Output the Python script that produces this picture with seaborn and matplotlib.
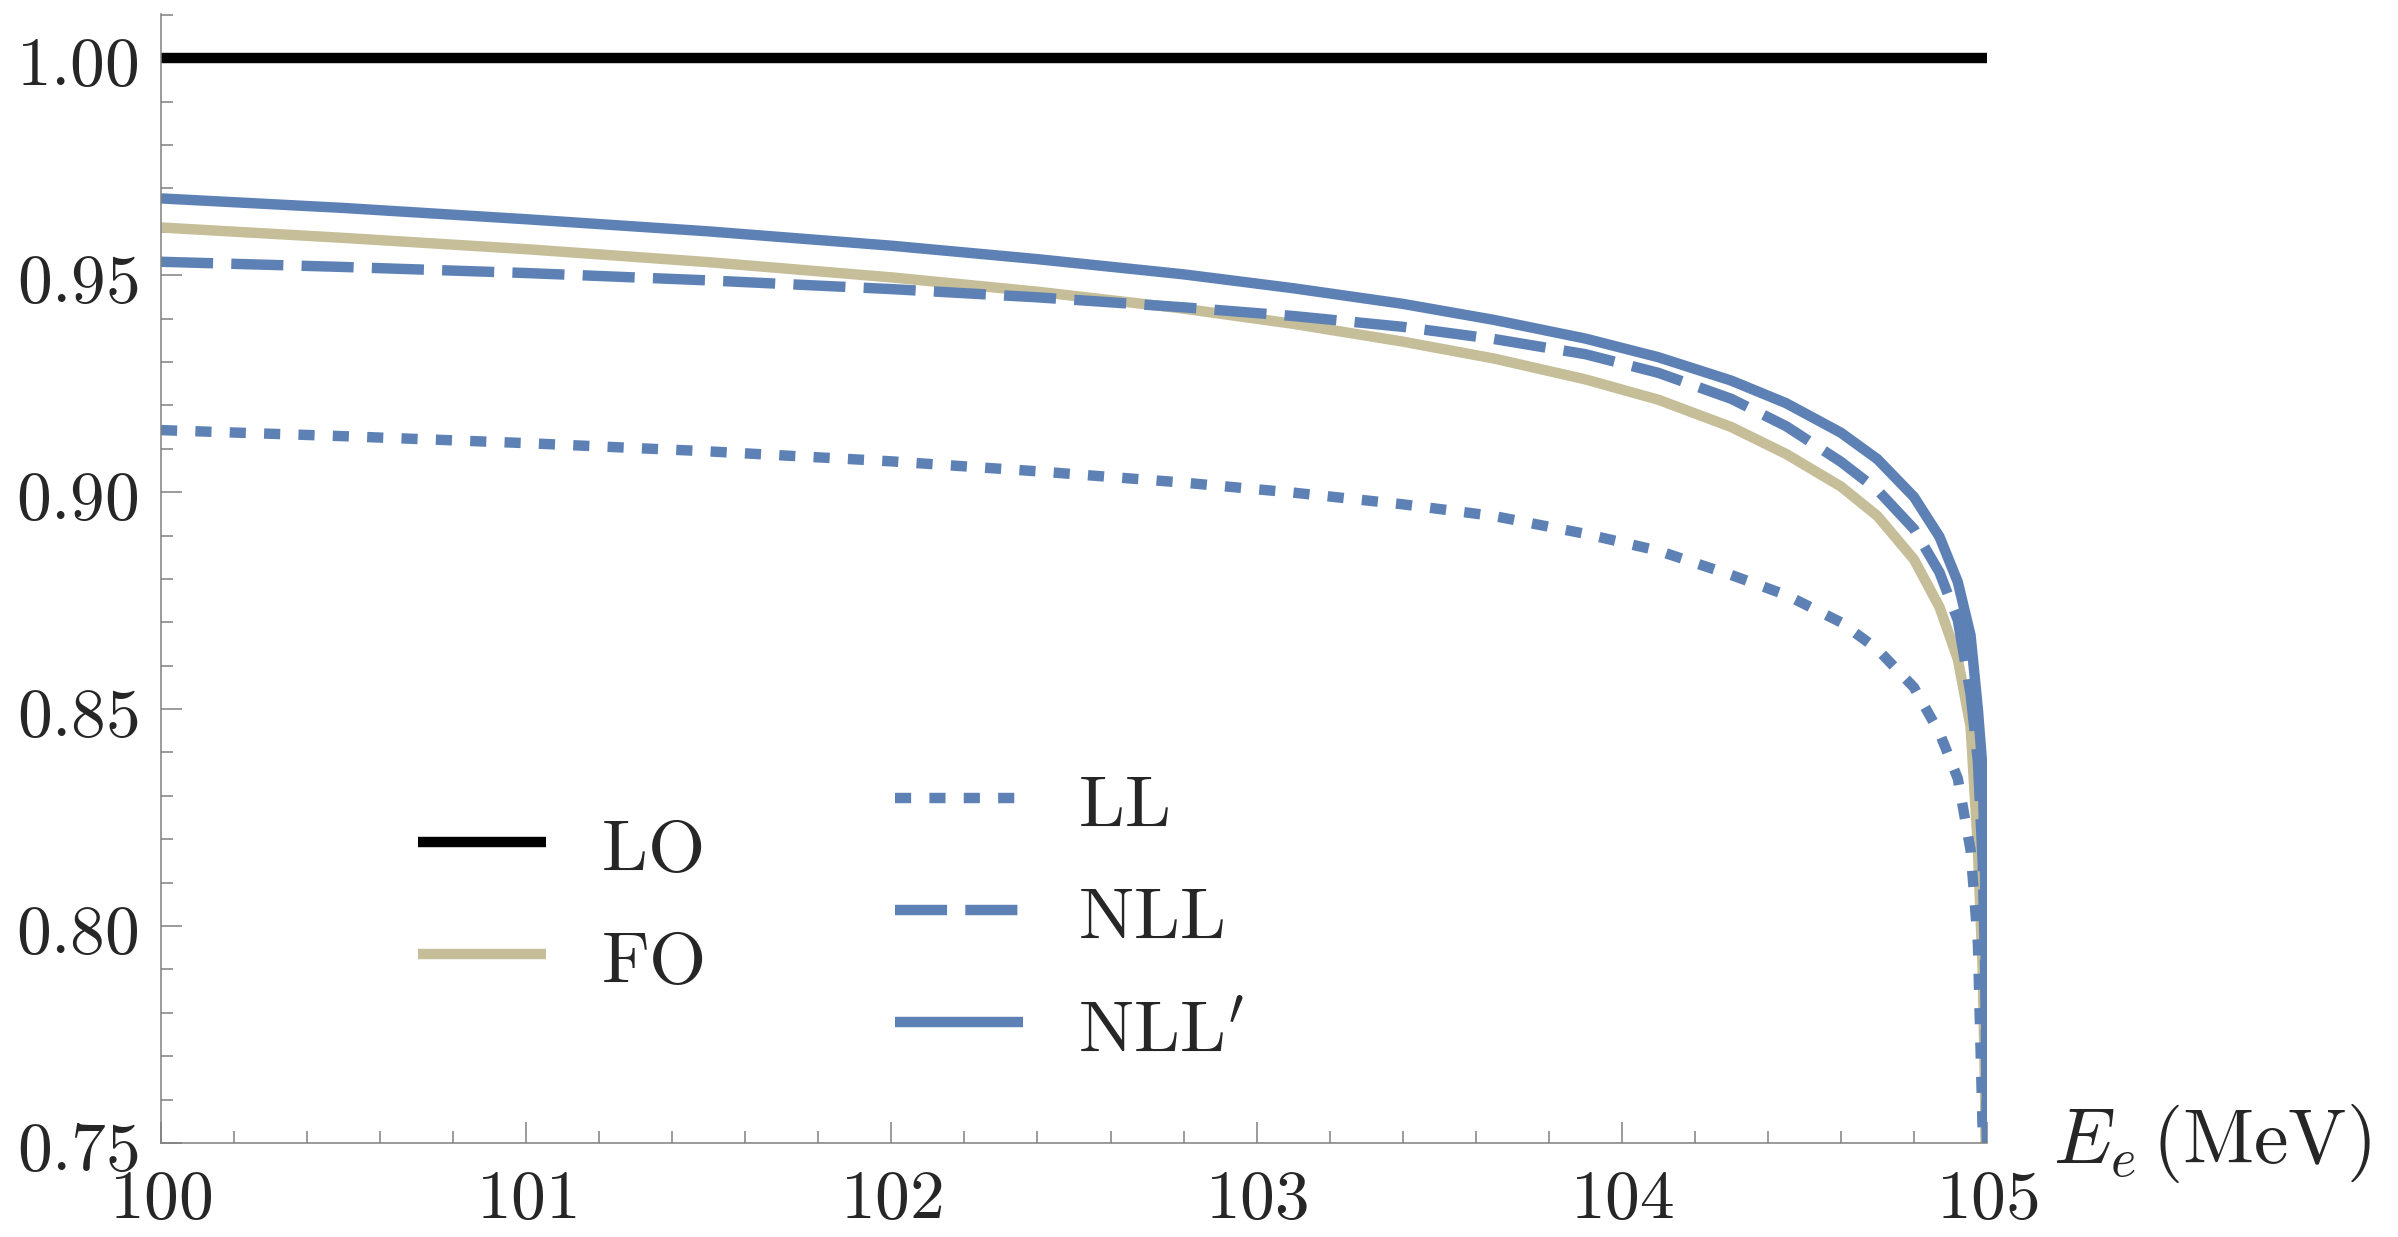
import numpy as np
import pandas as pd
import matplotlib
matplotlib.use("Agg")
import matplotlib.pyplot as plt
import seaborn as sns
from matplotlib.ticker import MultipleLocator, FixedLocator, FixedFormatter

# datos (E_e en MeV)
energy = [100.0, 100.5, 101.0, 101.5, 102.0, 102.4, 102.8, 103.1, 103.4, 103.65, 103.9, 104.1,
          104.3, 104.45, 104.6, 104.7, 104.8, 104.87, 104.92, 104.955, 104.975, 104.988,
          104.995, 105.0]
lo_energy = [100.0, 105.0]
lo_ratio = [1.0, 1.0]
fo_ratio = [0.9610, 0.9586, 0.9560, 0.9530, 0.9495, 0.9462, 0.9423, 0.9388, 0.9347, 0.9308,
            0.9260, 0.9213, 0.9150, 0.9088, 0.9013, 0.8945, 0.8845, 0.8735, 0.8615, 0.8460,
            0.8180, 0.7900, 0.7600, 0.7000]
ll_ratio = [0.9143, 0.9129, 0.9113, 0.9094, 0.9071, 0.9048, 0.9022, 0.8999, 0.8972, 0.8945,
            0.8904, 0.8865, 0.8809, 0.8763, 0.8700, 0.8638, 0.8550, 0.8445, 0.8340, 0.8175,
            0.7960, 0.7530, 0.7300, 0.7000]
nll_ratio = [0.9531, 0.9519, 0.9505, 0.9488, 0.9468, 0.9449, 0.9426, 0.9406, 0.9381, 0.9353,
             0.9318, 0.9275, 0.9215, 0.9152, 0.9070, 0.9005, 0.8915, 0.8815, 0.8705, 0.8535,
             0.8380, 0.8150, 0.7900, 0.7500]
nllp_ratio = [0.9677, 0.9655, 0.9629, 0.9601, 0.9568, 0.9537, 0.9502, 0.9470, 0.9434, 0.9397,
              0.9354, 0.9311, 0.9257, 0.9205, 0.9137, 0.9076, 0.8989, 0.8897, 0.8793, 0.8670,
              0.8500, 0.8360, 0.8100, 0.7500]

x_ticks = [100, 101, 102, 103, 104, 105]
x_tick_labels = ['100', '101', '102', '103', '104', '105']
y_ticks = [0.75, 0.80, 0.85, 0.90, 0.95, 1.00]
y_tick_labels = ['0.75', '0.80', '0.85', '0.90', '0.95', '1.00']
labels_left = ['LO', 'FO']
labels_right = ['LL', 'NLL', "NLL'"]

# estilo
sns.set_style('ticks')
plt.rcParams['mathtext.fontset'] = 'cm'
plt.rcParams['font.family'] = ['DejaVu Sans']

BLUE = '#5E81B5'
TAN = '#C5BE98'
GRIS = '#808080'
LW = 7.5

fig = plt.figure(figsize=(23.98, 12.37), dpi=100)
ax = fig.add_axes([0.06714, 0.07599, 0.76147, 0.91269])

sns.lineplot(x=lo_energy, y=lo_ratio, ax=ax, color='black', linewidth=LW, solid_capstyle='butt')
sns.lineplot(x=energy, y=fo_ratio, ax=ax, color=TAN, linewidth=LW, solid_capstyle='butt')
sns.lineplot(x=energy, y=ll_ratio, ax=ax, color=BLUE, linewidth=LW, linestyle=(0, (1.55, 1.75)))
sns.lineplot(x=energy, y=nll_ratio, ax=ax, color=BLUE, linewidth=LW, linestyle=(0, (5.0, 1.75)))
sns.lineplot(x=energy, y=nllp_ratio, ax=ax, color=BLUE, linewidth=LW, solid_capstyle='butt')

ax.set_xlim(100, 105)
ax.set_ylim(0.75, 1.0102)

ax.xaxis.set_major_locator(FixedLocator(x_ticks))
ax.xaxis.set_major_formatter(FixedFormatter([f'${t}$' for t in x_tick_labels]))
ax.xaxis.set_minor_locator(MultipleLocator(0.2))
ax.yaxis.set_major_locator(FixedLocator(y_ticks))
ax.yaxis.set_major_formatter(FixedFormatter([f'${t}$' for t in y_tick_labels]))
ax.yaxis.set_minor_locator(MultipleLocator(0.01))

ax.tick_params(which='both', direction='in', color=GRIS, width=1.1, labelsize=50)
ax.tick_params(which='major', length=15)
ax.tick_params(which='minor', length=8.6)
ax.tick_params(axis='x', pad=16)
ax.tick_params(axis='y', pad=16)

for s in ['top', 'right']:
    ax.spines[s].set_visible(False)
for s in ['left', 'bottom']:
    ax.spines[s].set_color(GRIS)
    ax.spines[s].set_linewidth(1.1)

ax.set_xlabel(r'$E_e\,(\mathrm{MeV})$', fontsize=56)
ax.xaxis.set_label_coords(1.036, 0.0)
ax.xaxis.label.set_ha('left')
ax.xaxis.label.set_va('center')
ax.set_ylabel('')

# leyendas en dos columnas
lineas = ax.get_lines()
kw = dict(loc='center left', frameon=False, fontsize=53, handlelength=1.74,
          handletextpad=0.75, handleheight=1.0, labelspacing=0.52,
          borderpad=0, borderaxespad=0)
fig.legend(lineas[0:2], [r'$\mathrm{' + t + '}$' for t in labels_left],
           bbox_to_anchor=(0.1743, 0.2676), **kw)
fig.legend(lineas[2:5], [r'$\mathrm{' + t.replace("'", '') + '}' + ("^{\\prime}" if "'" in t else '') + '$'
                         for t in labels_right],
           bbox_to_anchor=(0.3732, 0.2579), **kw)

fig.savefig('out.png', dpi=100)
